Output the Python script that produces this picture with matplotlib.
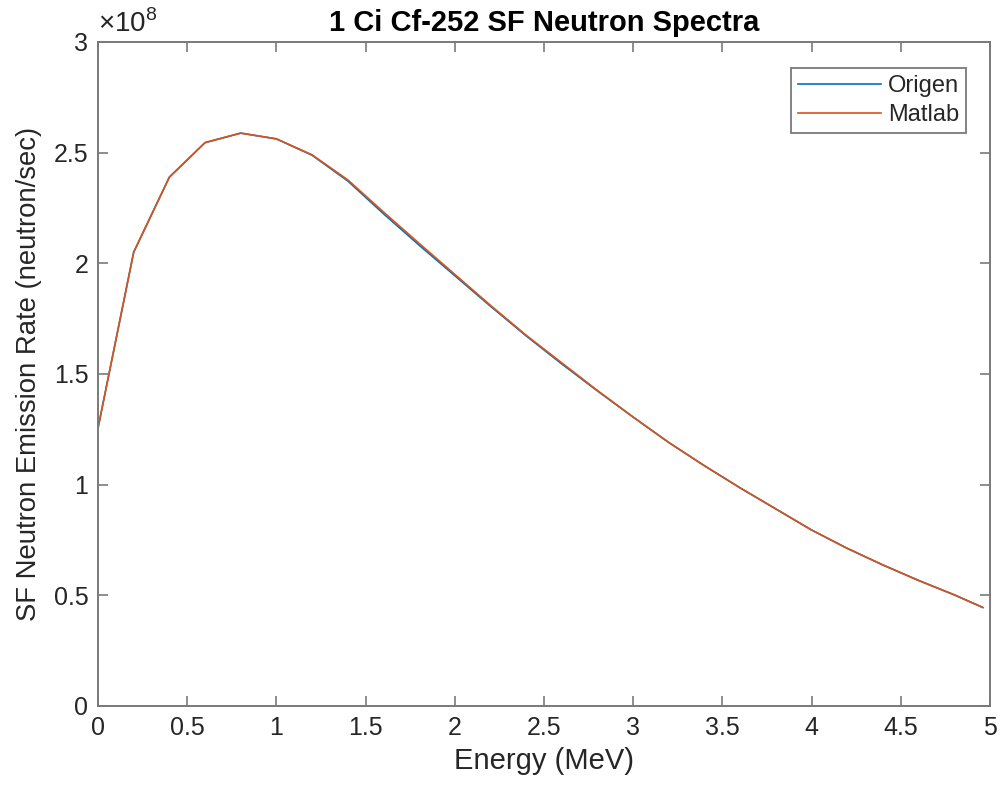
import matplotlib.pyplot as plt
from matplotlib.ticker import FuncFormatter

plt.rcParams["font.family"] = ["Liberation Sans", "DejaVu Sans"]
plt.rcParams["mathtext.fontset"] = "custom"
plt.rcParams["mathtext.rm"] = "Liberation Sans"

# energy grid (MeV)
energy = [0.0, 0.2, 0.4, 0.6, 0.8, 1.0, 1.2, 1.4, 1.6, 1.8, 2.0, 2.2, 2.4,
          2.6, 2.8, 3.0, 3.2, 3.4, 3.6, 3.8, 4.0, 4.2, 4.4, 4.6, 4.8, 4.96]

# emission rate (neutron/sec)
origen = [1.255e8, 2.050e8, 2.389e8, 2.545e8, 2.588e8, 2.562e8, 2.488e8,
          2.372e8, 2.224e8, 2.082e8, 1.944e8, 1.806e8, 1.672e8, 1.545e8,
          1.423e8, 1.305e8, 1.190e8, 1.085e8, 0.985e8, 0.890e8, 0.795e8,
          0.712e8, 0.637e8, 0.567e8, 0.502e8, 0.445e8]
matlab = [1.255e8, 2.050e8, 2.389e8, 2.545e8, 2.588e8, 2.562e8, 2.490e8,
          2.377e8, 2.232e8, 2.090e8, 1.950e8, 1.810e8, 1.675e8, 1.550e8,
          1.425e8, 1.305e8, 1.190e8, 1.085e8, 0.985e8, 0.890e8, 0.795e8,
          0.712e8, 0.637e8, 0.567e8, 0.502e8, 0.445e8]

TEXT = "#262626"
AXIS = "#7a7a7a"


def main():
    fig = plt.figure(figsize=(10.03, 7.91), dpi=100)
    ax = fig.add_axes([0.0977, 0.1075, 0.8893, 0.8395])

    ax.plot(energy, origen, color="#0072BD", lw=1.2, label="Origen")
    ax.plot(energy, matlab, color="#D95319", lw=1.2, label="Matlab")

    ax.set_xlim(0, 5)
    ax.set_ylim(0, 3e8)
    ax.set_xticks([0, 0.5, 1, 1.5, 2, 2.5, 3, 3.5, 4, 4.5, 5])
    ax.set_yticks([0, 0.5e8, 1e8, 1.5e8, 2e8, 2.5e8, 3e8])
    ax.xaxis.set_major_formatter(FuncFormatter(lambda v, p: f"{v:g}"))
    ax.yaxis.set_major_formatter(FuncFormatter(lambda v, p: f"{v / 1e8:g}"))

    ax.tick_params(direction="in", length=7, width=1.2, color=AXIS,
                   labelsize=18, labelcolor=TEXT, top=True, right=True, pad=7)
    for spine in ax.spines.values():
        spine.set_color(AXIS)
        spine.set_linewidth(1.4)

    ax.text(0.0, 1.006, r"$\times 10^{8}$", transform=ax.transAxes,
            fontsize=20, color=TEXT, ha="left", va="bottom")

    ax.set_title("1 Ci Cf-252 SF Neutron Spectra", fontsize=21,
                 fontweight="bold", color="black", pad=8)
    ax.set_xlabel("Energy (MeV)", fontsize=21, color=TEXT, labelpad=5)
    ax.set_ylabel("SF Neutron Emission Rate (neutron/sec)", fontsize=19.8,
                  color=TEXT, labelpad=8)

    leg = ax.legend(loc="upper right", bbox_to_anchor=(0.973, 0.961),
                    fontsize=17, fancybox=False, framealpha=1,
                    edgecolor=AXIS, handlelength=3.5, borderpad=0.3,
                    labelspacing=0.3, handletextpad=0.3, borderaxespad=0)
    leg.get_frame().set_linewidth(1.3)
    for t in leg.get_texts():
        t.set_color(TEXT)

    fig.savefig("out.png", dpi=100)
    plt.close(fig)


if __name__ == "__main__":
    main()
